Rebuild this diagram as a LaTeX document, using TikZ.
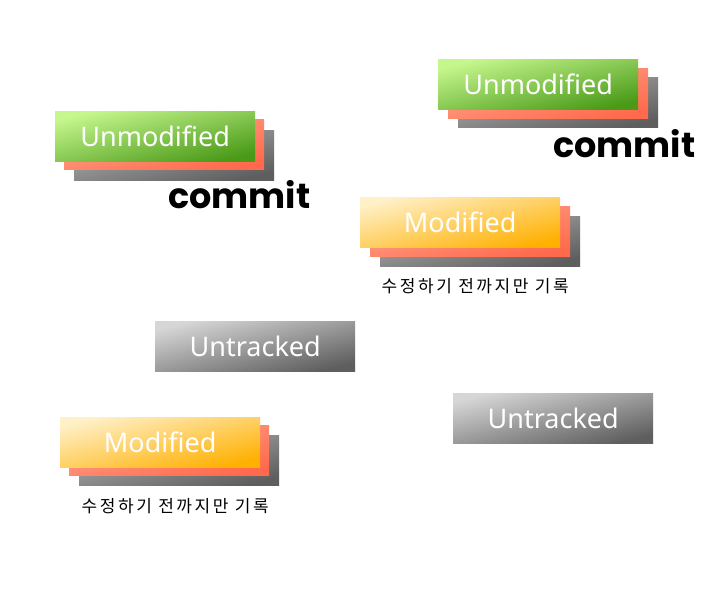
\documentclass[tikz,border=0pt]{standalone}
\usepackage{fontspec}
\setmainfont{Noto Sans}
\newfontfamily\boxfont{Noto Sans}
\newfontfamily\commitfont{Poppins}[BoldFont=* Bold]
\newfontfamily\krfont[LetterSpace=15]{Noto Sans CJK KR}
\definecolor{gA}{HTML}{C6F78E}
\definecolor{gB}{HTML}{4A9A18}
\definecolor{sA}{HTML}{FFA890}
\definecolor{sB}{HTML}{FF6A4C}
\definecolor{dA}{HTML}{B4B4B4}
\definecolor{dB}{HTML}{5E5E5E}
\definecolor{mA}{HTML}{FFF0C8}
\definecolor{mB}{HTML}{FFB000}
\definecolor{tA}{HTML}{D6D6D6}
\definecolor{tB}{HTML}{5E5E5E}
\begin{document}
\begin{tikzpicture}[x=1pt,y=-1pt,
  card/.style={anchor=north west,minimum width=200pt,minimum height=50pt,inner sep=0pt,
    text=white,font=\boxfont\fontsize{27}{27}\selectfont},
  greenbox/.style={card,top color=gA,bottom color=gB,shading angle=14},
  salmonbox/.style={card,top color=sA,bottom color=sB,shading angle=14},
  shadowbox/.style={card,top color=dA,bottom color=dB,shading angle=14},
  modbox/.style={card,top color=mA,bottom color=mB,shading angle=14},
  trackbox/.style={card,top color=tA,bottom color=tB,shading angle=14},
  committxt/.style={anchor=base,inner sep=0pt,font=\commitfont\bfseries\fontsize{35}{35}\selectfont},
  krtxt/.style={anchor=base,inner sep=0pt,font=\krfont\fontsize{17}{17}\selectfont}
]
\useasboundingbox[fill=white] (0,0) rectangle (720,593);
% Left Unmodified
\node[shadowbox] (g1) at (74,130) {};
\node[salmonbox] (s1) at (64,119) {};
\node[greenbox] (u1) at (55,111) {Unmodified};
\node[committxt] (c1) at ([xshift=65pt,yshift=-28pt]g1.south) {commit};
% Right Unmodified
\node[shadowbox] (g2) at (458,77) {};
\node[salmonbox] (s2) at (448,68) {};
\node[greenbox] (u2) at (438,59) {Unmodified};
\node[committxt] (c2) at ([xshift=66pt,yshift=-30pt]g2.south) {commit};
% Right Modified
\node[shadowbox] (g3) at (380,216) {};
\node[salmonbox] (s3) at (370,206) {};
\node[modbox] (m3) at (360,197) {Modified};
\node[krtxt] (k3) at ([xshift=-5pt,yshift=-26pt]g3.south) {수정하기 전까지만 기록};
% Left Modified
\node[shadowbox] (g4) at (79,435) {};
\node[salmonbox] (s4) at (69,425) {};
\node[modbox] (m4) at (60,417) {Modified};
\node[krtxt] (k4) at ([xshift=-4pt,yshift=-27pt]g4.south) {수정하기 전까지만 기록};
% Untracked
\node[trackbox] (t1) at (155,321) {Untracked};
\node[trackbox] (t2) at (453,393) {Untracked};
\end{tikzpicture}
\end{document}
